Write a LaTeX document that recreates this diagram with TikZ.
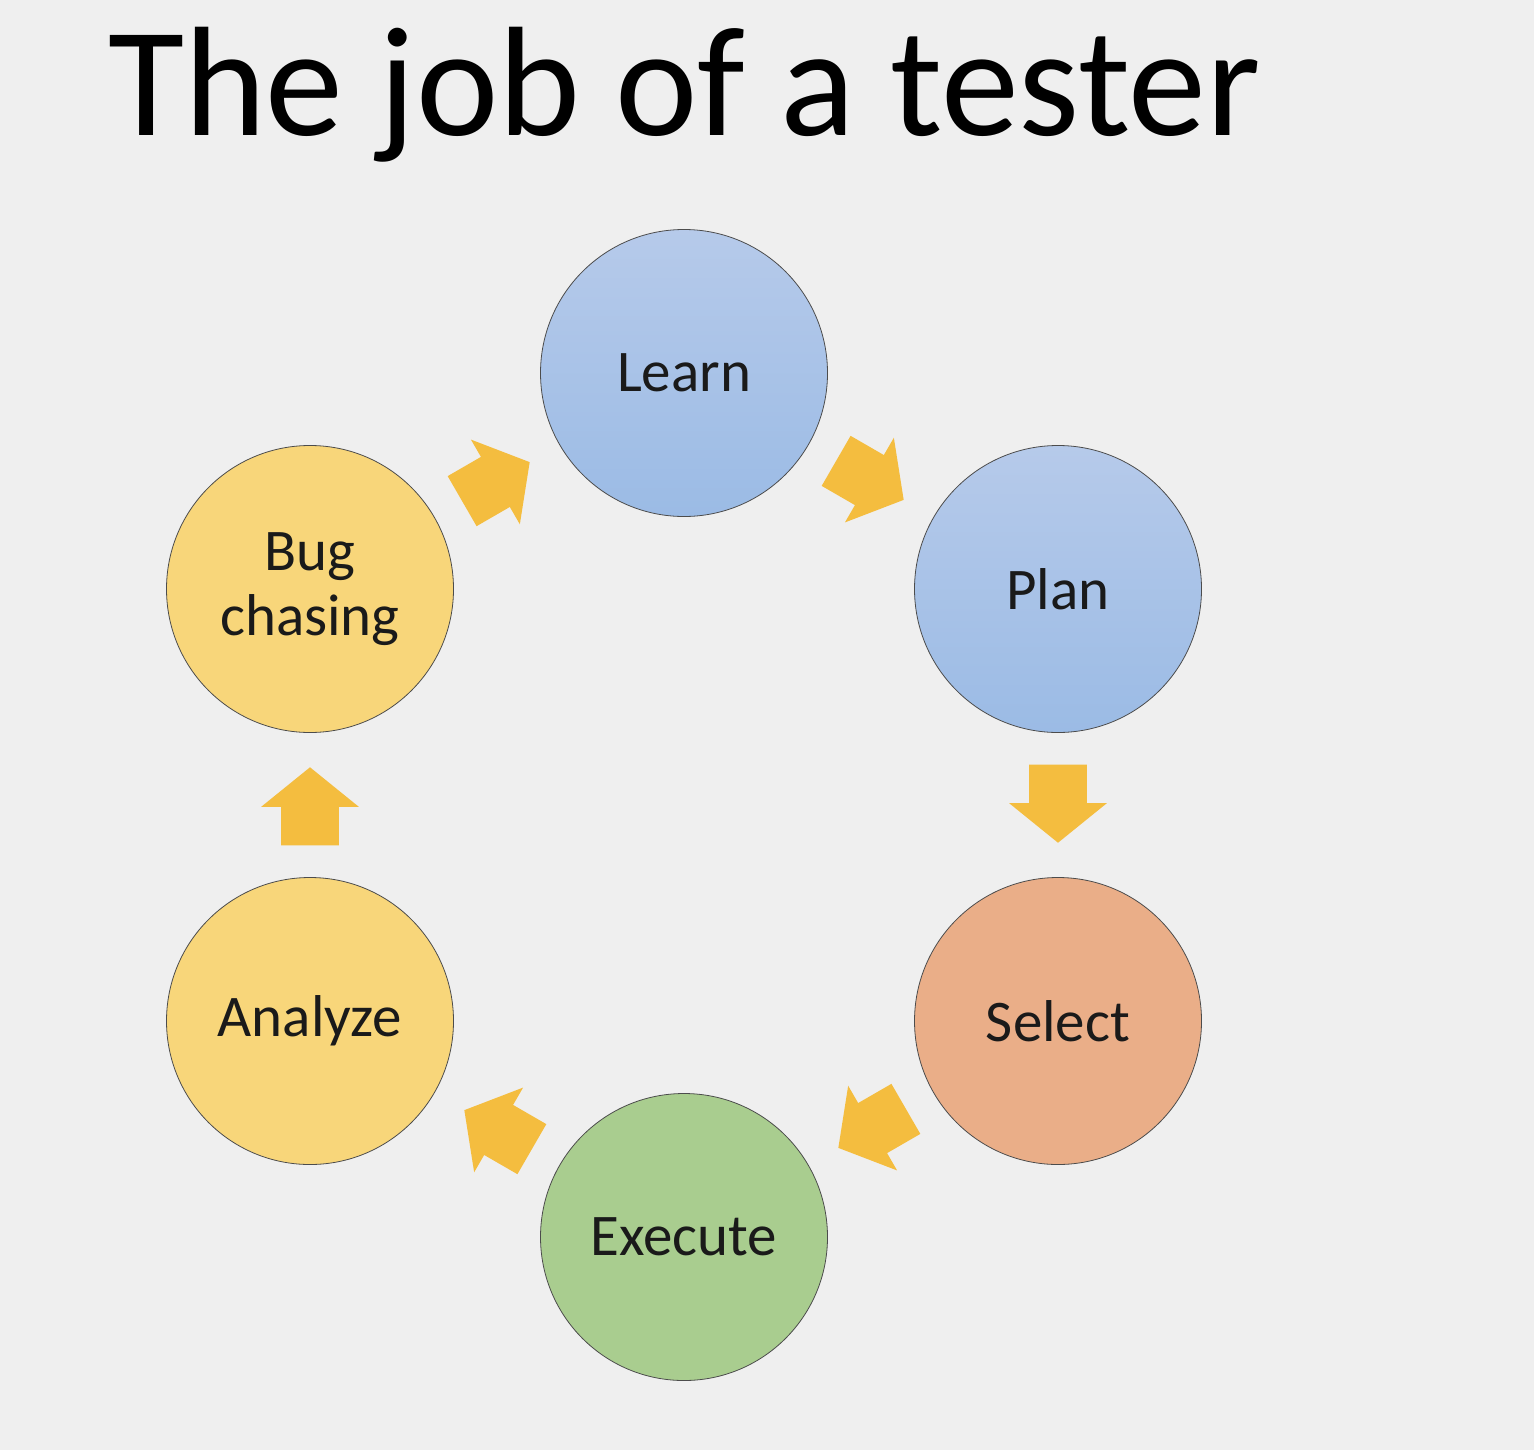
\documentclass[tikz,border=0pt]{standalone}
\usepackage{fontspec}
\setmainfont{Carlito}
\usetikzlibrary{shapes.arrows}

\definecolor{slidebg}{HTML}{EFEFEF}
\definecolor{textdark}{HTML}{1A1A1A}
\definecolor{learntop}{HTML}{B6CAEA}
\definecolor{learnbot}{HTML}{9BBBE5}
\definecolor{selectfill}{HTML}{EAAE88}
\definecolor{executefill}{HTML}{A9CD8F}
\definecolor{bugfill}{HTML}{F8D67A}
\definecolor{arrowyellow}{HTML}{F4BD3F}

\begin{document}
\begin{tikzpicture}[
        x=0.5pt, y=-0.5pt,
        stage/.style={circle, draw=gray!60!black, line width=0.4pt,
            minimum size=143.5pt, inner sep=0pt, align=center, text=textdark,
            font=\fontsize{29.5}{32.5}\selectfont},
        bluestage/.style={stage, top color=learntop, bottom color=learnbot},
        flow/.style={single arrow, fill=arrowyellow, draw=none,
            minimum height=39pt, inner xsep=0pt, inner ysep=14.25pt,
            single arrow head extend=10pt, single arrow tip angle=102,
            sloped, allow upside down, pos=0.41}]

    \fill[slidebg] (0,0) rectangle (1534,1450);

    \node[anchor=base west, font=\fontsize{78}{82}\selectfont] (title) at (101,135) {The job of a tester};

    \node[bluestage] (learn) at (684,373) {Learn};
    \node[bluestage] (plan) at (1058,589) {Plan};
    \node[stage, fill=selectfill] (select) at (1058,1021) {Select};
    \node[stage, fill=executefill] (execute) at (684,1237) {Execute};
    \node[stage, fill=bugfill] (analyze) at (310,1021) {Analyze};
    \node[stage, fill=bugfill] (bugchase) at (310,589) {Bug\\chasing};

    \path (learn) -- (plan) node[flow] {};
    \path (plan) -- (select) node[flow] {};
    \path (select) -- (execute) node[flow] {};
    \path (execute) -- (analyze) node[flow] {};
    \path (analyze) -- (bugchase) node[flow] {};
    \path (bugchase) -- (learn) node[flow] {};
    % \draw[dashed] (learn) -- (execute);
\end{tikzpicture}
\end{document}
